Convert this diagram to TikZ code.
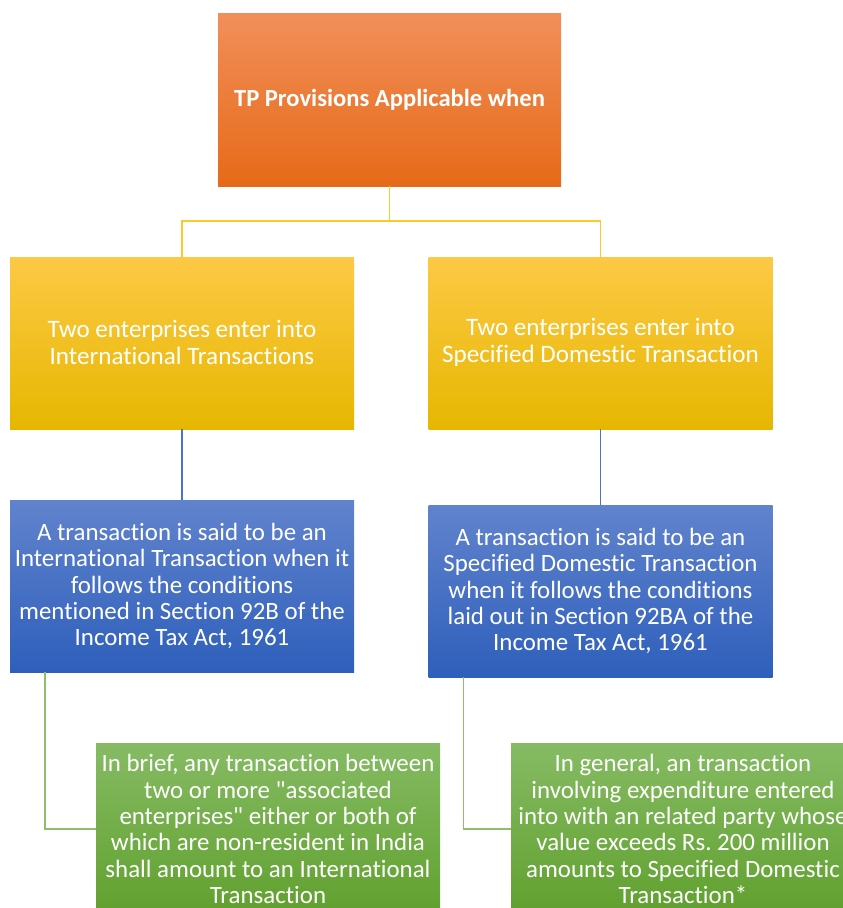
\documentclass[tikz,border=0pt]{standalone}
\usepackage{fontspec}
\setmainfont[Ligatures={NoCommon,TeXOff}]{Carlito}
\usetikzlibrary{calc}
\frenchspacing
\definecolor{orT}{HTML}{F18F5A}
\definecolor{orB}{HTML}{E66A18}
\definecolor{yeT}{HTML}{FDC945}
\definecolor{yeB}{HTML}{E6B700}
\definecolor{blT}{HTML}{6183CD}
\definecolor{blB}{HTML}{2E5FBB}
\definecolor{grT}{HTML}{86BB64}
\definecolor{grB}{HTML}{60A02E}
\definecolor{yeL}{HTML}{FFC729}
\definecolor{blL}{HTML}{4A74C8}
\definecolor{grL}{HTML}{8CC06A}
\tikzset{
  box/.style={shade, minimum width=344pt, minimum height=172pt, inner sep=0pt},
  orbox/.style={box, top color=orT, bottom color=orB, minimum width=343pt, minimum height=173pt},
  yebox/.style={box, top color=yeT, bottom color=yeB},
  blbox/.style={box, top color=blT, bottom color=blB},
  grbox/.style={box, top color=grT, bottom color=grB},
  txt/.style={align=center, text=white, inner sep=0pt, font=\fontsize{24.9}{26.3}\selectfont},
  ytxt/.style={txt, font=\fontsize{25.1}{27}\selectfont},
  ttxt/.style={txt, font=\bfseries\fontsize{24.6}{26}\selectfont},
  yline/.style={draw=yeL, line width=1.5pt},
  bline/.style={draw=blL, line width=1.5pt},
  gline/.style={draw=grL, line width=1.5pt}
}
\begin{document}
\begin{tikzpicture}[x=1pt,y=-1pt]
\useasboundingbox (0,0) rectangle (843,908);
\clip (0,0) rectangle (843,908);
\node[orbox] (top) at (389.5,99.5) {};
\node[ttxt] (topt) at (top.center) {TP Provisions Applicable when};
\node[yebox] (y1) at (182,343) {};
\node[ytxt] (y1t) at ($(y1.center)+(0,-1)$) {Two enterprises enter into\\International Transactions};
\node[yebox] (y2) at (600.5,343) {};
\node[ytxt] (y2t) at ($(y2.center)+(0,-1)$) {Two enterprises enter into\\Specified Domestic Transaction};
\node[blbox] (b1) at (182,586) {};
\node[txt] (b1t) at (b1.center) {A transaction is said to be an\\International Transaction when it\\follows the conditions\\mentioned in Section 92B of the\\Income Tax Act, 1961};
\node[blbox] (b2) at (600.5,591) {};
\node[txt] (b2t) at (b2.center) {A transaction is said to be an\\Specified Domestic Transaction\\when it follows the conditions\\laid out in Section 92BA of the\\Income Tax Act, 1961};
\node[grbox] (g1) at (268,829) {};
\node[txt] (g1t) at (g1.center) {In brief, any transaction between\\two or more "associated\\enterprises" either or both of\\which are non-resident in India\\shall amount to an International\\Transaction};
\node[grbox] (g2) at (683,829) {};
\node[txt] (g2t) at (g2.center) {In general, an transaction\\involving expenditure entered\\into with an related party whose\\value exceeds Rs. 200 million\\amounts to Specified Domestic\\Transaction*};
\coordinate (j) at (389.5,221);
\draw[yline] (top.south) -- (j) -| (y1.north);
\draw[yline] (j) -| (y2.north);
\draw[bline] (y1.south) -- (b1.north);
\draw[bline] (y2.south) -- (b2.north);
\coordinate (s1) at ($(b1.south west)+(35,0)$);
\coordinate (s2) at ($(b2.south west)+(35,0)$);
\draw[gline] (s1) |- (g1.west);
\draw[gline] (s2) |- (g2.west);
\end{tikzpicture}
\end{document}
